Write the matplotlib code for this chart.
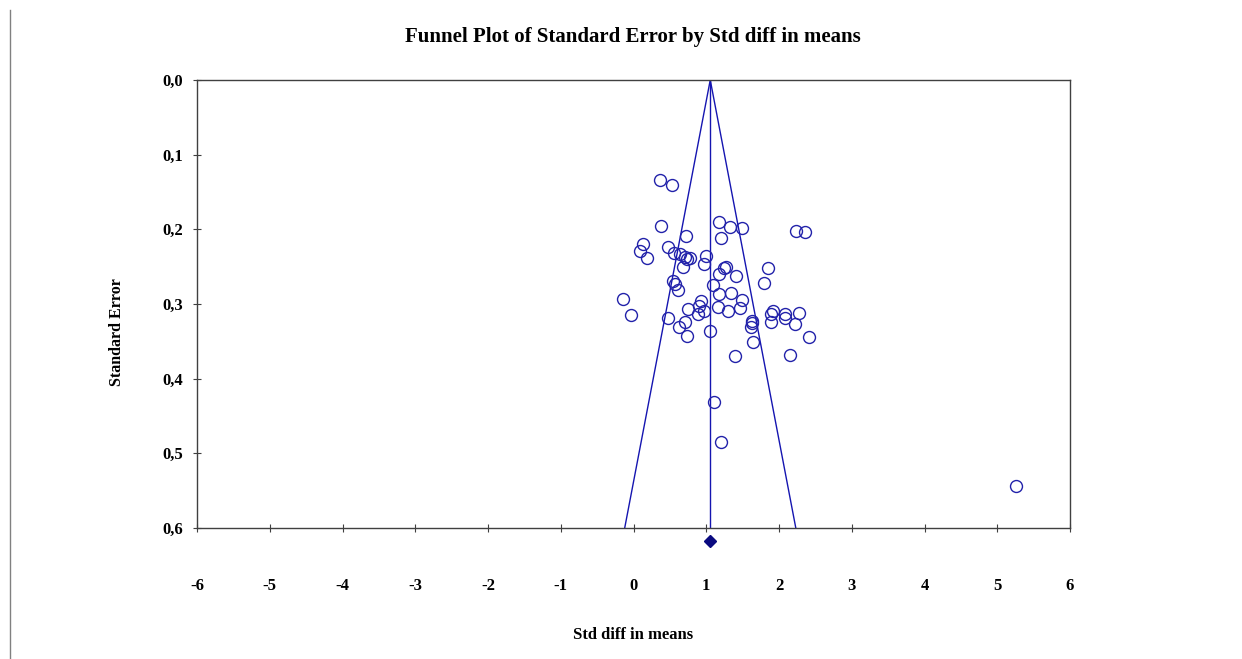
"""Funnel plot of standard error by std diff in means."""

import matplotlib
matplotlib.use("Agg")
import matplotlib.pyplot as plt
from matplotlib.lines import Line2D

# --- Data ---
std_diff = [
    0.358, 0.523, 0.372, 1.170, 1.321, 1.486, 2.229, 2.353, 0.716, 1.197,
    0.124, 0.083, 0.179, 0.468, 0.550, 0.633, 0.702, 0.771, 0.729, 0.991,
    0.963, 0.674, 1.238, 1.266, 1.844, 1.170, 1.404, 1.789, 0.537, 0.564,
    0.605, 1.087, 1.170, 1.335, -0.151, -0.041, 1.486, 1.459, 1.294, 1.156,
    0.922, 0.894, 0.963, 0.881, 0.743, 0.468, 0.702, 0.619, 0.729, 1.046,
    1.913, 1.885, 1.885, 2.078, 2.078, 2.271, 2.216, 1.624, 1.624, 1.610,
    1.638, 2.408, 1.390, 2.147, 1.101, 1.197, 5.257,
]
std_err = [
    0.134, 0.141, 0.196, 0.190, 0.197, 0.198, 0.202, 0.204, 0.209, 0.212,
    0.220, 0.229, 0.238, 0.224, 0.232, 0.233, 0.237, 0.238, 0.240, 0.236,
    0.246, 0.250, 0.252, 0.250, 0.252, 0.260, 0.262, 0.272, 0.269, 0.273,
    0.281, 0.275, 0.287, 0.285, 0.293, 0.315, 0.295, 0.305, 0.309, 0.304,
    0.296, 0.303, 0.309, 0.313, 0.307, 0.319, 0.324, 0.331, 0.343, 0.336,
    0.309, 0.313, 0.324, 0.313, 0.319, 0.312, 0.327, 0.323, 0.325, 0.331,
    0.351, 0.344, 0.370, 0.368, 0.431, 0.485, 0.544,
]
pooled_mean = 1.055
z_crit = 1.96
se_max = 0.6
diamond_se = 0.617

x_ticks = [-6, -5, -4, -3, -2, -1, 0, 1, 2, 3, 4, 5, 6]
y_ticks = [0.0, 0.1, 0.2, 0.3, 0.4, 0.5, 0.6]
y_tick_labels = ["0,0", "0,1", "0,2", "0,3", "0,4", "0,5", "0,6"]

# --- Style ---
SERIF = ["Liberation Serif", "DejaVu Serif"]
POINT_COLOR = "#2222AA"
LINE_COLOR = "#1515B0"
FRAME_COLOR = "#404040"

plt.rcParams["font.family"] = SERIF
plt.rcParams["font.weight"] = "bold"

W, H = 1242, 659
fig = plt.figure(figsize=(W / 100, H / 100), dpi=100)
ax = fig.add_axes([197 / W, 1 - 528 / H, (1070 - 197) / W, (528 - 80) / H])

ax.set_xlim(-6, 6)
ax.set_ylim(se_max, 0.0)

# funnel and mean line
ax.plot([pooled_mean - z_crit * se_max, pooled_mean, pooled_mean + z_crit * se_max],
        [se_max, 0.0, se_max], color=LINE_COLOR, lw=1.0)
ax.plot([pooled_mean, pooled_mean], [0.0, se_max], color=LINE_COLOR, lw=1.0)

# studies
ax.plot(std_diff, std_err, linestyle="none", marker="o", ms=8.6,
        markerfacecolor="none", markeredgecolor=POINT_COLOR, markeredgewidth=1.0)

# pooled estimate diamond below the axis
ax.plot([pooled_mean], [diamond_se], marker="D", ms=6, color="#0A0A80",
        linestyle="none", clip_on=False)

ax.set_xticks(x_ticks)
ax.set_xticklabels([str(t) for t in x_ticks])
ax.set_yticks(y_ticks)
ax.set_yticklabels(y_tick_labels)
ax.tick_params(axis="x", direction="inout", length=6, width=0.8,
               color=FRAME_COLOR, pad=33, labelsize=12)
ax.tick_params(axis="y", direction="inout", length=6, width=0.8,
               color=FRAME_COLOR, pad=7, labelsize=12)
for lbl in ax.get_xticklabels() + ax.get_yticklabels():
    lbl.set_fontweight("bold")

for sp in ax.spines.values():
    sp.set_color(FRAME_COLOR)
    sp.set_linewidth(1.0)

fig.text(633 / W, 1 - 37 / H, "Funnel Plot of Standard Error by Std diff in means",
         ha="center", va="center", fontsize=15, fontweight="bold")
fig.text(633 / W, 1 - 635 / H, "Std diff in means",
         ha="center", va="center", fontsize=12, fontweight="bold")
fig.text(117 / W, 1 - 332 / H, "Standard Error", rotation=90,
         ha="center", va="center", fontsize=11.5, fontweight="bold")

# thin border line on the left edge
fig.add_artist(Line2D([10 / W, 10 / W], [0, 1 - 10 / H], color="#808080", lw=1.0))

fig.savefig("out.png", dpi=100, facecolor="white")
